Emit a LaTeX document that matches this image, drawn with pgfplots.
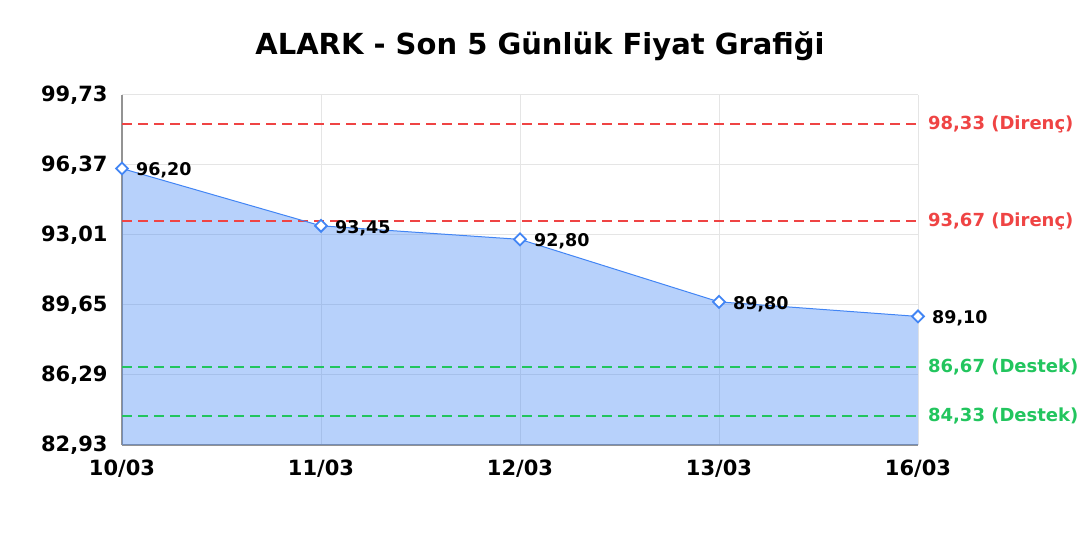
\documentclass[border=0pt]{standalone}
\usepackage{fontspec}
\setmainfont{DejaVu Sans}
\usepackage{pgfplots}
\pgfplotsset{compat=1.18}

\definecolor{lineblue}{HTML}{4285F4}
\definecolor{resred}{HTML}{EF4444}
\definecolor{supgreen}{HTML}{22C55E}
\definecolor{gridgray}{HTML}{E5E5E5}

\begin{document}
\begin{tikzpicture}
\path[use as bounding box] (0,0) rectangle (1080pt,540pt);
\node[font=\fontsize{29}{33}\selectfont\bfseries] at (540pt,494pt) {ALARK - Son 5 Günlük Fiyat Grafiği};

\begin{axis}[
at={(122pt,95pt)}, anchor=south west,
scale only axis,
width=796pt,
height=350pt,
xmin=0, xmax=4,
ymin=82.93, ymax=99.73,
xtick={0,1,2,3,4},
xticklabels={10/03,11/03,12/03,13/03,16/03},
ytick={82.93,86.29,89.65,93.01,96.37,99.73},
yticklabels={{82,93},{86,29},{89,65},{93,01},{96,37},{99,73}},
major tick length=0pt,
xmajorgrids, ymajorgrids,
grid style={gridgray, line width=1pt},
axis x line*=bottom,
axis y line*=left,
axis line style={-, draw=gray!85, line width=1.3pt},
tick label style={font=\fontsize{21}{25}\selectfont\bfseries, text=black},
yticklabel style={xshift=-11pt},
xticklabel style={yshift=-11pt},
clip=false,
]

% area
\addplot[draw=none, fill=lineblue, fill opacity=0.38]
coordinates {(0,96.20) (1,93.45) (2,92.80) (3,89.80) (4,89.10)} \closedcycle;

% support / resistance
\addplot[draw=resred, line width=1.5pt, dash pattern=on 10pt off 6pt]
coordinates {(0,98.33) (4,98.33)}
node[pos=1, anchor=west, xshift=6pt, text=resred, font=\fontsize{18}{21}\selectfont\bfseries] {98,33 (Direnç)};
\addplot[draw=resred, line width=1.5pt, dash pattern=on 10pt off 6pt]
coordinates {(0,93.67) (4,93.67)}
node[pos=1, anchor=west, xshift=6pt, text=resred, font=\fontsize{18}{21}\selectfont\bfseries] {93,67 (Direnç)};
\addplot[draw=supgreen, line width=1.5pt, dash pattern=on 10pt off 6pt]
coordinates {(0,86.67) (4,86.67)}
node[pos=1, anchor=west, xshift=6pt, text=supgreen, font=\fontsize{18}{21}\selectfont\bfseries] {86,67 (Destek)};
\addplot[draw=supgreen, line width=1.5pt, dash pattern=on 10pt off 6pt]
coordinates {(0,84.33) (4,84.33)}
node[pos=1, anchor=west, xshift=6pt, text=supgreen, font=\fontsize{18}{21}\selectfont\bfseries] {84,33 (Destek)};

% price line
\addplot[lineblue, line width=1pt,
  mark=square*, mark size=4.2pt,
  mark options={fill=white, draw=lineblue, line width=1.8pt, rotate=45},
  point meta=explicit symbolic,
  nodes near coords,
  every node near coord/.append style={anchor=west, xshift=10pt, yshift=-2pt, text=black, font=\fontsize{17.5}{21}\selectfont\bfseries}]
coordinates {(0,96.20) [96{,}20] (1,93.45) [93{,}45] (2,92.80) [92{,}80] (3,89.80) [89{,}80] (4,89.10) [89{,}10]};

\end{axis}
\end{tikzpicture}
\end{document}
